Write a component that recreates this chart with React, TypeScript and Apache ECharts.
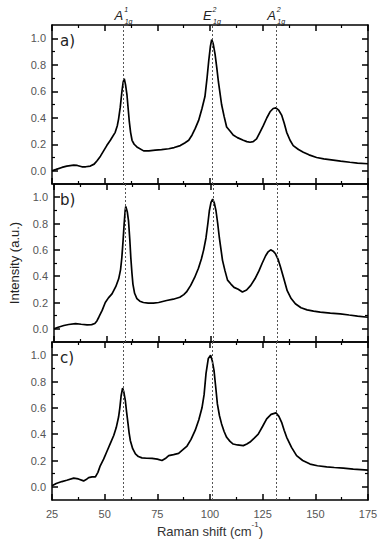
import React, { useEffect, useRef } from "react";
import * as echarts from "echarts";

const panelLabels = ["a)", "b)", "c)"];
const peakPositions = [59, 101, 131.5];
const peakLetters = ["A", "E", "A"];
const peakSup = ["1", "2", "2"];
const peakSub = ["1g", "1g", "1g"];
const yMajor = [0, 0.2, 0.4, 0.6, 0.8, 1.0];
const yMinor = [0.1, 0.3, 0.5, 0.7, 0.9];

const spectrumA: number[][] = [
  [25, 0.0], [27, 0.01], [29.7, 0.025], [32, 0.035], [35.3, 0.043], [37, 0.04], [39.2, 0.03], [41, 0.03], [43.2, 0.035], [45, 0.05],
  [46.4, 0.076], [48, 0.11], [49.5, 0.15], [51, 0.19], [52.7, 0.23], [55, 0.29], [56, 0.34], [56.6, 0.39], [57.4, 0.48], [58.2, 0.6],
  [58.8, 0.67], [59.3, 0.695], [59.9, 0.65], [60.6, 0.57], [61.2, 0.46], [61.7, 0.37], [62.3, 0.29], [63, 0.23], [64, 0.2], [65.3, 0.18],
  [68.5, 0.15], [71, 0.15], [74, 0.156], [77, 0.16], [80.4, 0.166], [83, 0.175], [85.9, 0.19], [88, 0.21], [89.9, 0.23], [91.5, 0.27],
  [93, 0.32], [94.6, 0.38], [96.2, 0.47], [97.6, 0.56], [98.6, 0.7], [99.4, 0.83], [100.2, 0.94], [100.8, 0.99], [101.5, 0.96], [102.4, 0.88],
  [103.2, 0.78], [104, 0.67], [104.8, 0.58], [105.5, 0.5], [106.7, 0.41], [107.9, 0.33], [109.5, 0.3], [111, 0.27], [113, 0.25], [115.8, 0.23],
  [117.5, 0.22], [119, 0.215], [120.5, 0.22], [122.1, 0.24], [123.7, 0.29], [125.3, 0.34], [127, 0.4], [128.5, 0.445], [130, 0.47], [131.3, 0.475],
  [132.7, 0.455], [134, 0.42], [135.2, 0.36], [136.4, 0.29], [138, 0.23], [139.5, 0.19], [142, 0.16], [144.3, 0.14], [147, 0.12], [150.6, 0.1],
  [154, 0.09], [158.5, 0.08], [162, 0.072], [166.4, 0.064], [170, 0.058], [175, 0.053],
];

const spectrumB: number[][] = [
  [25, 0.0], [27, 0.012], [29.7, 0.025], [32, 0.033], [35.3, 0.04], [38, 0.035], [40.8, 0.03], [43, 0.032], [44.5, 0.04], [45.5, 0.06],
  [46.4, 0.088], [48, 0.14], [49.5, 0.2], [51, 0.235], [52.7, 0.265], [54.5, 0.32], [55.9, 0.38], [56.8, 0.45], [57.4, 0.54], [58, 0.67],
  [58.5, 0.795], [59, 0.9], [59.3, 0.93], [60, 0.89], [60.6, 0.82], [61.2, 0.68], [61.7, 0.54], [62.2, 0.43], [62.7, 0.34], [63.5, 0.27],
  [64.6, 0.23], [66, 0.21], [67.7, 0.2], [70, 0.195], [72.5, 0.195], [75, 0.2], [78.8, 0.215], [82, 0.225], [85.1, 0.24], [87, 0.26],
  [88.3, 0.28], [90.3, 0.33], [92.2, 0.39], [94, 0.46], [95.4, 0.53], [96.5, 0.6], [97.6, 0.69], [98.5, 0.8], [99.2, 0.895], [100, 0.96],
  [100.8, 0.985], [101.6, 0.955], [102.4, 0.895], [103.2, 0.8], [104, 0.69], [104.8, 0.6], [105.5, 0.52], [106.7, 0.44], [107.9, 0.37], [109.5, 0.34],
  [111, 0.315], [113, 0.3], [115, 0.28], [117, 0.295], [119, 0.33], [121, 0.38], [122.9, 0.44], [124.5, 0.5], [126.1, 0.555], [127.3, 0.585],
  [128.5, 0.6], [129.7, 0.59], [130.8, 0.57], [132, 0.53], [133.2, 0.47], [134.8, 0.38], [136.4, 0.29], [138.3, 0.23], [140.3, 0.19], [143, 0.16],
  [145.9, 0.144], [149, 0.135], [152.2, 0.127], [157, 0.12], [161.7, 0.114], [166, 0.105], [170, 0.097], [175, 0.088],
];

const spectrumC: number[][] = [
  [25, 0.008], [27, 0.025], [29.7, 0.04], [32, 0.05], [35.3, 0.066], [37.5, 0.06], [40, 0.045], [41.2, 0.055], [42.4, 0.07], [44, 0.075],
  [45.6, 0.076], [46.8, 0.11], [47.9, 0.16], [49.5, 0.21], [51.1, 0.27], [52.7, 0.33], [54.3, 0.39], [55.5, 0.45], [56.6, 0.53], [57.2, 0.6],
  [57.8, 0.69], [58.5, 0.75], [59.1, 0.72], [59.8, 0.656], [60.4, 0.57], [61.1, 0.478], [61.6, 0.41], [62.2, 0.35], [63.3, 0.29], [64.6, 0.25],
  [66, 0.23], [67.7, 0.22], [70, 0.217], [72.5, 0.216], [75, 0.21], [77.2, 0.2], [78.8, 0.215], [80.4, 0.237], [82.7, 0.245], [85.1, 0.254],
  [87, 0.28], [89.1, 0.31], [91, 0.36], [93, 0.43], [94.7, 0.51], [96.2, 0.6], [97.2, 0.7], [98.1, 0.86], [99.2, 0.975], [100.3, 1.0],
  [101.1, 0.955], [101.9, 0.885], [102.7, 0.76], [103.5, 0.63], [104.5, 0.54], [105.5, 0.478], [106.7, 0.42], [107.9, 0.376], [109.5, 0.345], [111, 0.325],
  [113, 0.318], [115.8, 0.313], [117.5, 0.325], [119, 0.34], [121, 0.37], [122.9, 0.4], [125, 0.46], [126.9, 0.516], [129, 0.55], [131.3, 0.562],
  [132.7, 0.535], [134, 0.49], [135.2, 0.43], [136.4, 0.376], [138.7, 0.3], [141.1, 0.237], [144, 0.2], [147.5, 0.173], [151, 0.16], [155.4, 0.152],
  [159, 0.147], [163.3, 0.142], [168, 0.135], [175, 0.127],
];

const spectra = [spectrumA, spectrumB, spectrumC];

const FONT = "Liberation Sans, Arial, sans-serif";

export default function App() {
  const ref = useRef<HTMLDivElement>(null);
  useEffect(() => {
    document.body.style.margin = "0";
    if (!ref.current) return;
    const chart = echarts.init(ref.current, undefined, { renderer: "svg" });
    const layout = [
      { top: 25, height: 159 },
      { top: 184, height: 158 },
      { top: 342, height: 158 },
    ];
    const grid = layout.map((l) => ({ left: 52, right: 13, top: l.top, height: l.height }));
    const axisLine = { show: true, onZero: false, lineStyle: { color: "#000", width: 1.5 } };
    const xAxis: any[] = [];
    const yAxis: any[] = [];
    const series: any[] = [];
    layout.forEach((_, i) => {
      ["bottom", "top"].forEach((pos) => {
        xAxis.push({
          type: "value",
          gridIndex: i,
          position: pos,
          min: 25,
          max: 175,
          interval: 25,
          axisLine,
          axisTick: { show: true, inside: true, length: 6, lineStyle: { color: "#000", width: 1.5 } },
          minorTick: { show: true, splitNumber: 2, length: 3, lineStyle: { color: "#000", width: 1.2 } },
          splitLine: { show: false },
          axisLabel: {
            show: pos === "bottom" && i === 2,
            color: "#555",
            fontSize: 11,
            fontFamily: FONT,
            margin: 8,
          },
          ...(pos === "bottom" && i === 2
            ? {
                name: "{n|Raman shift (cm}{s|-1}{n|)}",
                nameLocation: "middle",
                nameGap: 20,
                nameTextStyle: {
                  rich: {
                    n: { fontSize: 13, color: "#333", fontFamily: FONT, lineHeight: 18, verticalAlign: "bottom" },
                    s: { fontSize: 8, color: "#333", fontFamily: FONT, lineHeight: 18, verticalAlign: "top" },
                  },
                },
              }
            : {}),
        });
      });
      ["left", "right"].forEach((pos) => {
        yAxis.push({
          type: "value",
          gridIndex: i,
          position: pos,
          min: -0.1,
          max: 1.1,
          axisLine,
          axisTick: { show: true, inside: true, length: 6, customValues: yMajor, lineStyle: { color: "#000", width: 1.5 } },
          splitLine: { show: false },
          axisLabel: {
            show: pos === "left",
            customValues: yMajor,
            formatter: (v: number) => v.toFixed(1),
            color: "#555",
            fontSize: 11,
            fontFamily: FONT,
            margin: 6,
          },
          ...(pos === "left" && i === 1
            ? {
                name: "Intensity (a.u.)",
                nameLocation: "middle",
                nameGap: 33,
                nameTextStyle: { fontSize: 13, color: "#222", fontFamily: FONT },
              }
            : {}),
        });
        yAxis.push({
          type: "value",
          gridIndex: i,
          position: pos,
          min: -0.1,
          max: 1.1,
          axisLine: { show: false },
          axisTick: { show: true, inside: true, length: 3, customValues: yMinor, lineStyle: { color: "#000", width: 1.2 } },
          splitLine: { show: false },
          axisLabel: { show: false, customValues: yMinor },
        });
      });
      series.push({
        type: "line",
        xAxisIndex: 2 * i,
        yAxisIndex: 4 * i,
        data: spectra[i],
        showSymbol: false,
        symbol: "none",
        smooth: false,
        lineStyle: { color: "#000", width: 1.7 },
        markLine: {
          silent: true,
          symbol: "none",
          label: { show: false },
          lineStyle: { color: "#555", type: [2, 2], width: 1 },
          data: peakPositions.map((p) => ({ xAxis: p })),
        },
      });
    });

    chart.setOption({
      animation: false,
      grid,
      xAxis,
      yAxis,
      series,
    });

    const graphic: any[] = [];
    layout.forEach((l, i) => {
      graphic.push({
        type: "text",
        left: 60,
        top: l.top + 8,
        style: { text: panelLabels[i], fontSize: 15, fontFamily: "DejaVu Sans, sans-serif", fill: "#222" },
      });
    });
    peakPositions.forEach((p, k) => {
      const x = chart.convertToPixel({ xAxisIndex: 0 }, p) as number;
      graphic.push({
        type: "text",
        x: x - 0.5,
        y: 15,
        style: {
          text: peakLetters[k],
          fontSize: 13,
          fontStyle: "italic",
          fontFamily: FONT,
          fill: "#222",
          align: "right",
          verticalAlign: "middle",
        },
      });
      graphic.push({
        type: "text",
        x: x + 0.5,
        y: 9,
        style: { text: peakSup[k], fontSize: 7, fontStyle: "italic", fontFamily: FONT, fill: "#222", align: "left", verticalAlign: "middle" },
      });
      graphic.push({
        type: "text",
        x: x + 1,
        y: 21,
        style: { text: peakSub[k], fontSize: 7, fontStyle: "italic", fontFamily: FONT, fill: "#222", align: "left", verticalAlign: "middle" },
      });
    });
    chart.setOption({ graphic });

    return () => chart.dispose();
  }, []);
  return <div ref={ref} style={{ width: 381, height: 550 }} />;
}
